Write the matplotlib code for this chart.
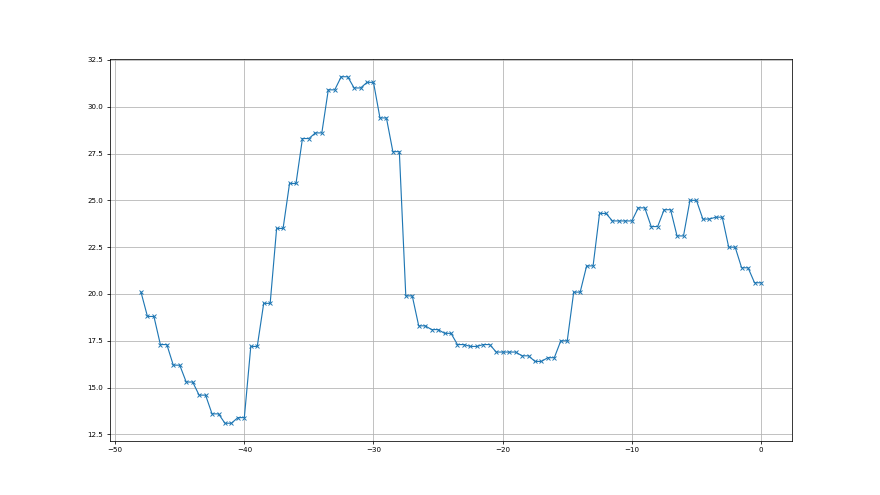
import numpy as np
import matplotlib.pyplot as plt

# waktu (x) tiap setengah satuan, dari -48 sampai 0
x = np.arange(-48, 0.5, 0.5)

y = [20.1,
     18.8, 18.8, 17.3, 17.3, 16.2, 16.2, 15.3, 15.3, 14.6, 14.6,
     13.6, 13.6, 13.1, 13.1, 13.4, 13.4, 17.2, 17.2, 19.5, 19.5,
     23.5, 23.5, 25.9, 25.9, 28.3, 28.3, 28.6, 28.6, 30.9, 30.9,
     31.6, 31.6, 31.0, 31.0, 31.3, 31.3, 29.4, 29.4, 27.6, 27.6,
     19.9, 19.9, 18.3, 18.3, 18.1, 18.1, 17.9, 17.9, 17.3, 17.3,
     17.2, 17.2, 17.3, 17.3, 16.9, 16.9, 16.9, 16.9, 16.7, 16.7,
     16.4, 16.4, 16.6, 16.6, 17.5, 17.5, 20.1, 20.1, 21.5, 21.5,
     24.3, 24.3, 23.9, 23.9, 23.9, 23.9, 24.6, 24.6, 23.6, 23.6,
     24.5, 24.5, 23.1, 23.1, 25.0, 25.0, 24.0, 24.0, 24.1, 24.1,
     22.5, 22.5, 21.4, 21.4, 20.6, 20.6]

fig = plt.figure(figsize=(12.8, 7.2), dpi=68.75)
ax = fig.add_subplot(111)
ax.plot(x, y, marker='x', markersize=4.5, color='tab:blue', linewidth=1.2)
ax.tick_params(labelsize=7.5)
ax.grid()

fig.savefig("out.png", dpi=68.75)
